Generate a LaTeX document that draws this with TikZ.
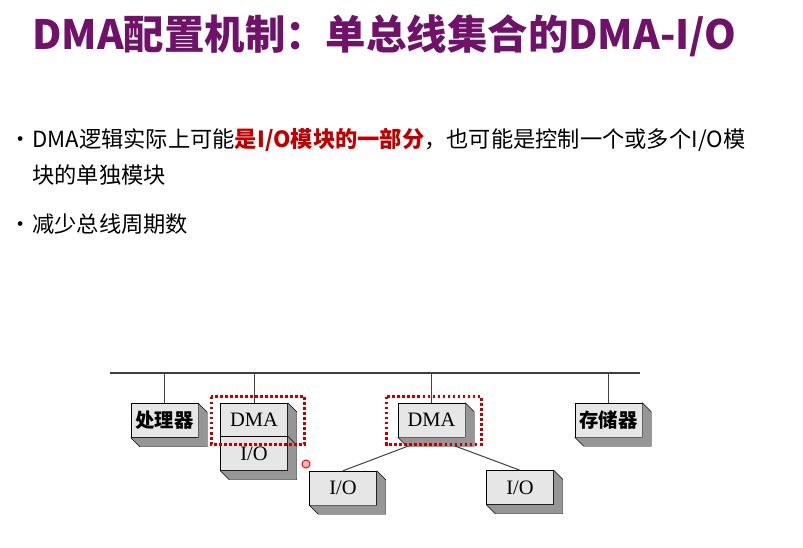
\documentclass[tikz,border=0pt]{standalone}
\usepackage{fontspec}
\setmainfont{Liberation Serif}
\newfontfamily\cjk{Noto Sans CJK SC}
\usetikzlibrary{positioning,calc,backgrounds}
\definecolor{titlepurple}{RGB}{112,18,106}
\definecolor{keyred}{RGB}{192,0,0}
\definecolor{boxface}{RGB}{230,230,230}
\definecolor{boxside}{RGB}{150,150,150}
\tikzset{
  unit/.style={rectangle,draw=black,fill=boxface,minimum width=20.1mm,minimum height=10.2mm,inner sep=0pt,font=\fontsize{17.5}{17.5}\selectfont},
  cnunit/.style={unit,font=\cjk\bfseries\fontsize{16.5}{16.5}\selectfont},
  slab/.style={draw=black,fill=boxside,line join=round},
  wire/.style={draw=black!75,line width=0.3mm},
  hilite/.style={draw=keyred,dotted,line width=0.8mm},
  bodytext/.style={anchor=base west,inner sep=0pt,font=\cjk\fontsize{19}{19}\selectfont}
}
% shaded side and bottom of a block
\newcommand\slabof[1]{%
  \draw[slab] (#1.north east) -- ++(9,9) -- ($(#1.south east)+(9,9)$)
    -- ($(#1.south west)+(9,9)$) -- (#1.south west) -- (#1.south east) -- cycle;}
\begin{document}
\begin{tikzpicture}[x=0.3mm,y=-0.3mm]
  \useasboundingbox (0,0) rectangle (803,548);
  % heading and bullets
  \node[anchor=base west,inner sep=0pt,text=titlepurple,font=\cjk\bfseries\fontsize{34.5}{34.5}\selectfont] (title) at (32,50) {DMA配置机制：单总线集合的DMA-I/O};
  \node[bodytext] (dot1) at (9,147) {•};
  \node[bodytext] (line1) at (32,147) {DMA逻辑实际上可能{\bfseries\color{keyred}是I/O模块的一部分}，也可能是控制一个或多个I/O模};
  \node[bodytext] (line2) at (32,184) {块的单独模块};
  \node[bodytext] (dot2) at (9,232) {•};
  \node[bodytext] (line3) at (32,232) {减少总线周期数};

  % blocks
  \node[cnunit] (cpu) at (164.5,420.5) {处理器};
  \node[unit] (dmaL) at (254,420) {DMA};
  \slabof{cpu}
  \slabof{dmaL}
  \node[unit] (ioL) at (254,453.5) {I/O};
  \slabof{ioL}
  \node[unit] (dmaM) at (431.5,420) {DMA};
  \slabof{dmaM}
  \node[unit] (ioA) at (343,488) {I/O};
  \slabof{ioA}
  \node[unit] (ioB) at (520,487.5) {I/O};
  \slabof{ioB}
  \node[cnunit] (mem) at (608.5,420) {存储器};
  \slabof{mem}

  % bus and connectors
  \coordinate (busL) at (110,373);
  \coordinate (busR) at (640,373);
  \draw[wire,line width=0.45mm] (busL) -- (busR);
  \foreach \n in {cpu,dmaL,dmaM,mem}
    \draw[wire] (\n.north |- busL) -- (\n.north);
  \begin{scope}[on background layer]
    \draw[wire] (dmaM.south) -- (ioA.north);
    \draw[wire] (dmaM.south) -- (ioB.north);
  \end{scope}

  % highlighted DMA units
  \draw[hilite] ($(dmaL.north west)+(-9,-6)$) rectangle ($(dmaL.south east)+(17,7)$);
  \draw[hilite] ($(dmaM.north west)+(-11,-6)$) rectangle ($(dmaM.south east)+(16,7)$);

  \node[circle,draw=red,fill=red!25,line width=0.3mm,minimum size=2.4mm,inner sep=0pt] (ptr) at (306,464) {};
\end{tikzpicture}
\end{document}
